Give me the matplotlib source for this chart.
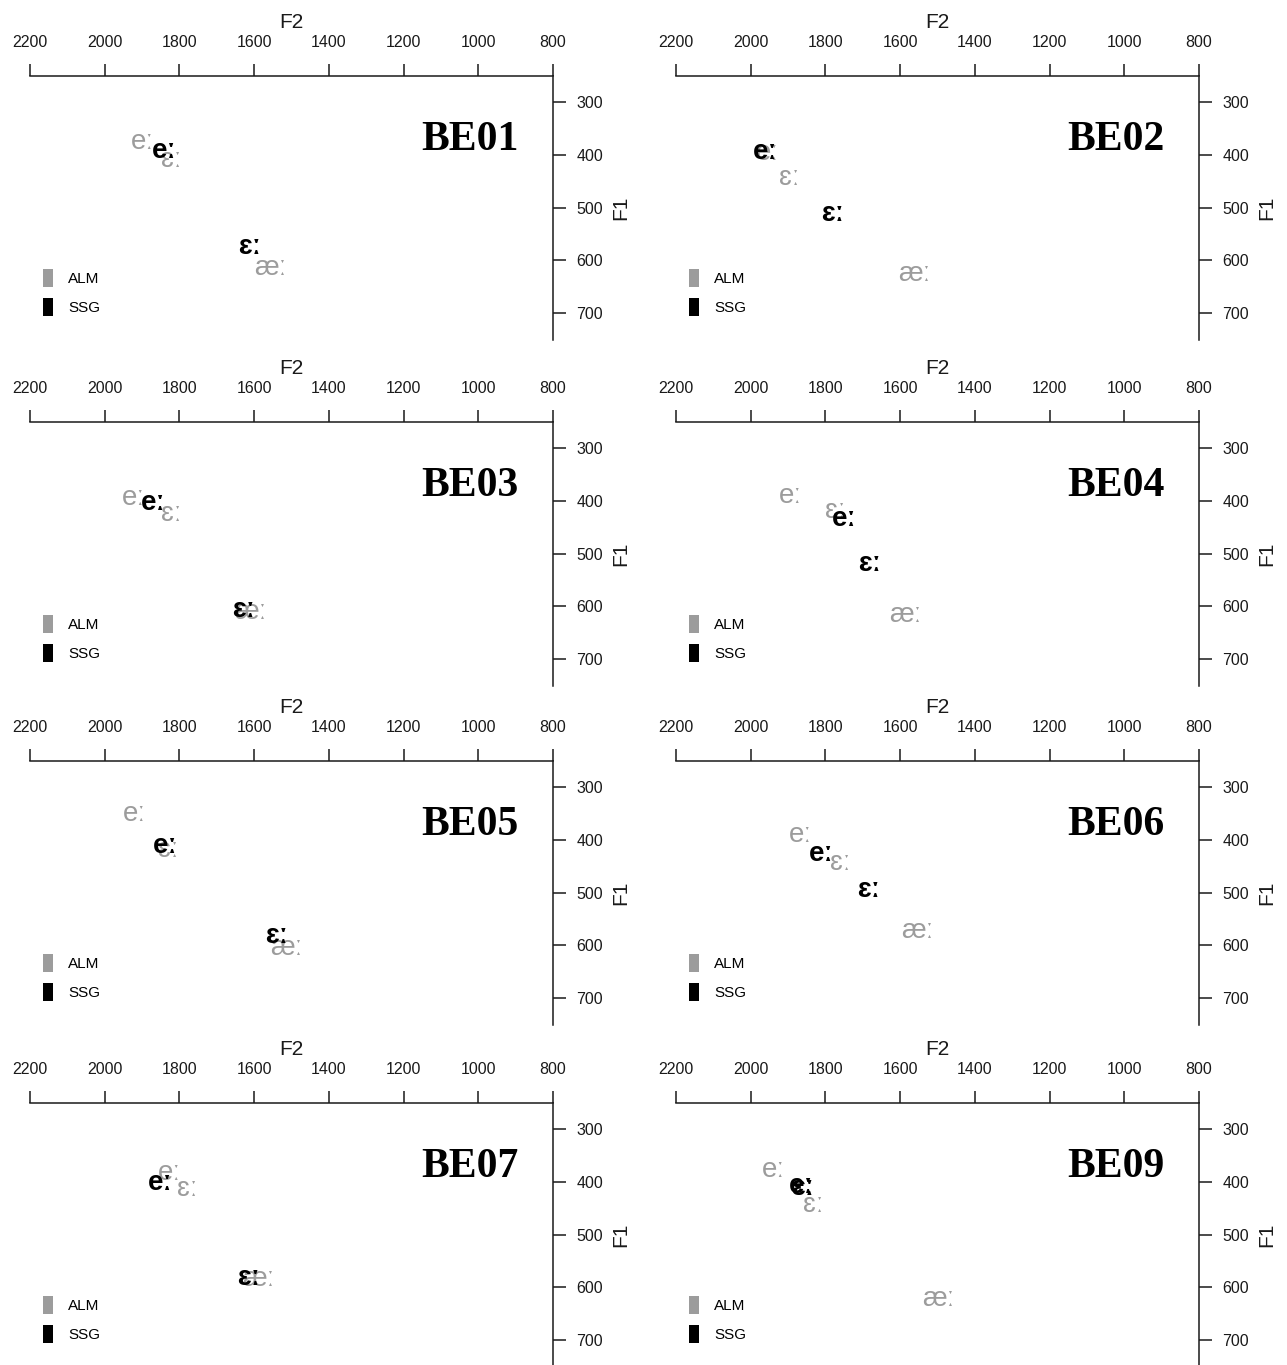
import matplotlib
matplotlib.use("Agg")
import matplotlib.pyplot as plt
from matplotlib.patches import Patch
from matplotlib.transforms import offset_copy

plt.rcParams['font.family'] = ['Liberation Sans', 'DejaVu Sans']

# ---------------- data ----------------
speakers = ['BE01', 'BE02', 'BE03', 'BE04', 'BE05', 'BE06', 'BE07', 'BE09']
groups = ['ALM', 'SSG']

alm_vowels = ['eː', 'ɛː', 'æː']
ssg_vowels = ['eː', 'ɛː']

# ALM (grey) formant means per speaker: [eː, ɛː, æː]
alm_f2 = [
    [1900, 1822, 1556],
    [1954, 1897, 1561],
    [1924, 1822, 1611],
    [1894, 1774, 1585],
    [1921, 1829, 1515],
    [1866, 1759, 1553],
    [1827, 1779, 1589],
    [1938, 1833, 1497],
]
alm_f1 = [
    [375, 409, 613],
    [396, 443, 625],
    [394, 425, 610],
    [390, 418, 616],
    [350, 418, 604],
    [390, 443, 572],
    [383, 413, 584],
    [377, 443, 621],
]

# SSG (black) formant means per speaker: [eː, ɛː]
ssg_f2 = [
    [1840, 1613],
    [1962, 1782],
    [1869, 1629],
    [1749, 1681],
    [1837, 1541],
    [1812, 1684],
    [1851, 1615],
    [1866, 1861],
]
ssg_f1 = [
    [392, 575],
    [394, 511],
    [404, 607],
    [434, 519],
    [411, 582],
    [426, 494],
    [402, 581],
    [408, 411],
]

f2_ticks = [2200, 2000, 1800, 1600, 1400, 1200, 1000, 800]
f1_ticks = [300, 400, 500, 600, 700]

# ---------------- styling ----------------
GREY = '#9c9c9c'
BLACK = '#000000'
W, H = 1287, 1365
fig = plt.figure(figsize=(W / 100, H / 100), dpi=100)

col_lefts = [30, 676]
ax_w = 523
row_tops = [76, 422, 761, 1103]
ax_h = 263.5

vfs = 20  # vowel label font size (pt)

for i, spk in enumerate(speakers):
    r, c = divmod(i, 2)
    left = col_lefts[c]
    top = row_tops[r]
    ax = fig.add_axes([left / W, 1 - (top + ax_h) / H, ax_w / W, ax_h / H])
    ax.set_xlim(2200, 800)
    ax.set_ylim(750, 250)
    ax.patch.set_alpha(0)

    for s in ['left', 'bottom']:
        ax.spines[s].set_visible(False)
    for s in ['top', 'right']:
        ax.spines[s].set_linewidth(1.1)
        ax.spines[s].set_color('#1a1a1a')

    ax.xaxis.tick_top()
    ax.yaxis.tick_right()
    ax.set_xticks(f2_ticks)
    ax.set_xticklabels([str(t) for t in f2_ticks])
    ax.set_yticks(f1_ticks)
    ax.set_yticklabels([str(t) for t in f1_ticks])
    ax.tick_params(axis='x', direction='out', length=9, width=1.1,
                   labelsize=11.5, pad=10, colors='#1a1a1a')
    ax.tick_params(axis='y', direction='out', length=9, width=1.1,
                   labelsize=11.5, pad=8, colors='#1a1a1a')

    ax.xaxis.set_label_position('top')
    ax.set_xlabel('F2', fontsize=15, labelpad=5, color='#1a1a1a')
    ax.yaxis.set_label_position('right')
    ax.set_ylabel('F1', fontsize=15, labelpad=6, color='#1a1a1a')

    # speaker title
    ax.text(893, 372, spk, ha='right', va='center', fontsize=30,
            fontweight='bold', family=['Liberation Serif', 'DejaVu Serif'])

    tr = offset_copy(ax.transData, fig=fig, x=0, y=-0.26 * vfs, units='points')

    # ALM labels (grey, drawn first)
    for v, x, y in zip(alm_vowels, alm_f2[i], alm_f1[i]):
        ax.text(x, y, v, ha='center', va='baseline', fontsize=vfs,
                color=GREY, transform=tr)
    # SSG labels (black, bold, on top)
    for v, x, y in zip(ssg_vowels, ssg_f2[i], ssg_f1[i]):
        ax.text(x, y, v, ha='center', va='baseline', fontsize=vfs,
                color=BLACK, fontweight='bold', transform=tr)

    handles = [Patch(facecolor=GREY, edgecolor='none'),
               Patch(facecolor=BLACK, edgecolor='none')]
    ax.legend(handles, groups, loc='lower left', bbox_to_anchor=(0.025, 0.09),
              frameon=False, fontsize=11, handlelength=0.65, handleheight=1.4,
              handletextpad=1.0, labelspacing=0.75, borderpad=0,
              borderaxespad=0)

fig.savefig('out.png', dpi=100)
